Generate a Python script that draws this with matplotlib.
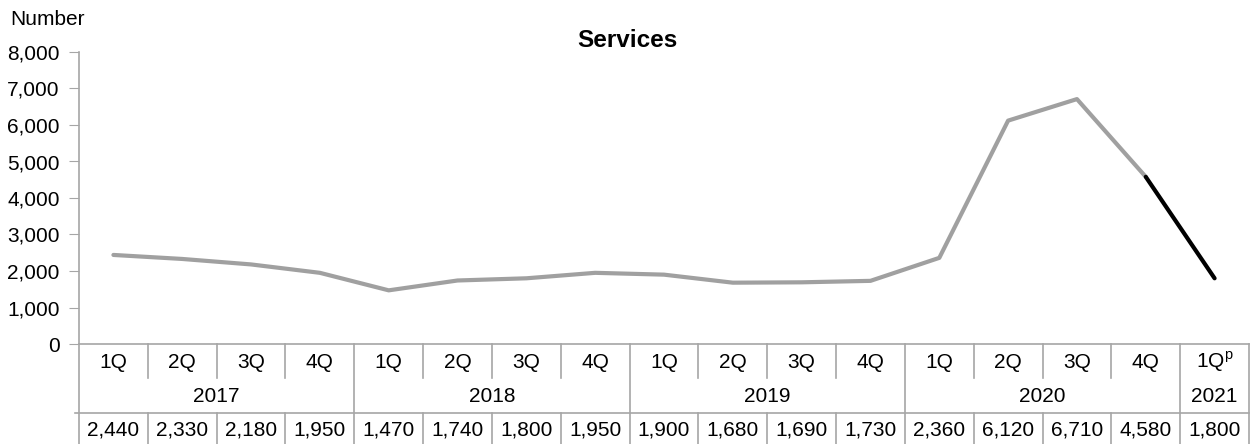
import numpy as np
import matplotlib
matplotlib.use("Agg")
import matplotlib.pyplot as plt
from matplotlib.ticker import FuncFormatter

quarters = ["1Q", "2Q", "3Q", "4Q"] * 4 + ["1Q$^\\mathregular{p}$"]
years = ["2017", "2018", "2019", "2020", "2021"]
year_counts = [4, 4, 4, 4, 1]
values = [2440, 2330, 2180, 1950, 1470, 1740, 1800, 1950,
          1900, 1680, 1690, 1730, 2360, 6120, 6710, 4580, 1800]

plt.rcParams['font.family'] = ['Liberation Sans', 'DejaVu Sans']

W, H = 1254, 444
fig = plt.figure(figsize=(W / 100, H / 100), dpi=100)
x0, x1, ytop, ybot = 79, 1249, 52, 344
ax = fig.add_axes([x0 / W, (H - ybot) / H, (x1 - x0) / W, (ybot - ytop) / H])

gridc = "#a6a6a6"
tsize = 15
x = np.arange(len(values))
ax.plot(x[:-1], values[:-1], color="#a0a0a0", lw=3, solid_capstyle="round", solid_joinstyle="round")
ax.plot(x[-2:], values[-2:], color="black", lw=3, solid_capstyle="round")

ax.set_xlim(-0.5, len(values) - 0.5)
ax.set_ylim(0, 8000)
ax.set_yticks(range(0, 8001, 1000))
ax.yaxis.set_major_formatter(FuncFormatter(lambda v, p: f"{int(v):,}"))
ax.tick_params(axis="y", length=7, color=gridc, pad=7, labelsize=15)
ax.set_xticks([])
for s in ["top", "right"]:
    ax.spines[s].set_visible(False)
for s in ["left", "bottom"]:
    ax.spines[s].set_color(gridc)
    ax.spines[s].set_linewidth(1.2)

fig.text(0.5, 1 - 47 / H, "Services", fontweight="bold", fontsize=17.5,
         ha="center", va="baseline")
fig.text(10 / W, 1 - 25 / H, "Number", fontsize=15, va="baseline", ha="left")


def fy(py):
    # pixel row -> axes fraction
    return (ybot - py) / (ybot - ytop)


tr = ax.get_xaxis_transform()


def vline(xd, p0, p1):
    ax.plot([xd, xd], [fy(p0), fy(p1)], color=gridc, lw=1.2,
            transform=tr, clip_on=False)


n = len(values)
# quarter row
for i, q in enumerate(quarters):
    ax.text(i, fy(362), q, ha="center", va="center", transform=tr, fontsize=tsize)
# year row
bounds = np.cumsum([0] + year_counts)
for k, yr in enumerate(years):
    c = (bounds[k] + bounds[k + 1] - 1) / 2
    ax.text(c, fy(396), yr, ha="center", va="center", transform=tr, fontsize=tsize)
# values row
for i, v in enumerate(values):
    ax.text(i, fy(430), f"{v:,}", ha="center", va="center", transform=tr, fontsize=tsize)

# table lines
for i in range(1, n):
    xd = i - 0.5
    if i in bounds:
        vline(xd, ybot, 444)
    else:
        vline(xd, ybot, 378)
        vline(xd, 413, 444)
vline(-0.5, ybot, 444)
vline(n - 0.5, ybot, 444)
ax.plot([-0.56, n - 0.5], [fy(413), fy(413)], color=gridc, lw=1.2,
        transform=tr, clip_on=False)

fig.savefig("out.png", dpi=100)
